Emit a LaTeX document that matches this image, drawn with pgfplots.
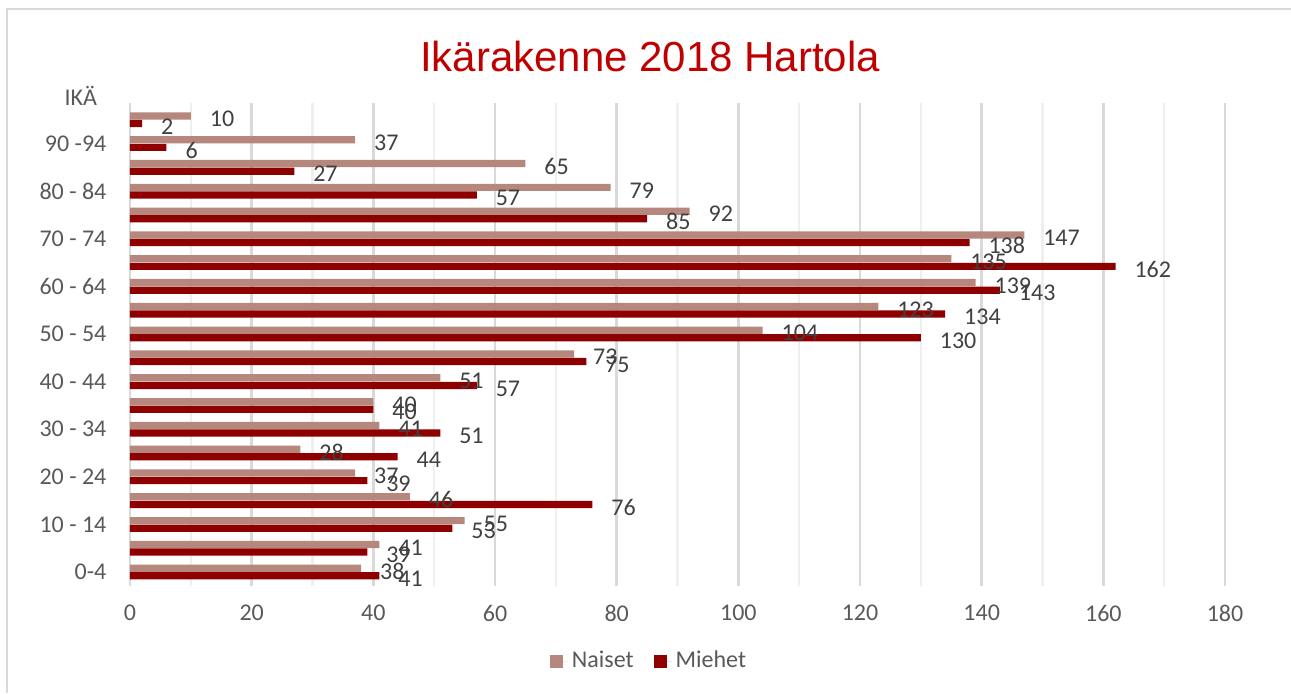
\documentclass[border=0pt]{standalone}
\usepackage{pgfplots}
\pgfplotsset{compat=1.18}
\usepackage{pgfplotstable}
\usepackage{fontspec}
\setmainfont{Carlito}
\newfontfamily\titlefont{Liberation Sans}
\definecolor{naiset}{HTML}{B5877D}
\definecolor{miehet}{HTML}{8E0000}
\definecolor{ticktext}{HTML}{595959}
\definecolor{labeltext}{HTML}{404040}
\definecolor{titlered}{HTML}{C00000}
\definecolor{majgrid}{HTML}{D9D9D9}
\definecolor{mingrid}{HTML}{EFEFEF}
\pgfplotstableread{
idx nai mie
0 38 41
1 41 39
2 55 53
3 46 76
4 37 39
5 28 44
6 41 51
7 40 40
8 51 57
9 73 75
10 104 130
11 123 134
12 139 143
13 135 162
14 147 138
15 92 85
16 79 57
17 65 27
18 37 6
19 10 2
}\data
\begin{document}
\begin{tikzpicture}
\useasboundingbox (0,0) rectangle (645.5pt,346.5pt);
\draw[majgrid, line width=0.7pt] (3.5pt,0) -- (3.5pt,342pt) -- (646pt,342pt);
\node[titlered, font=\titlefont\fontsize{21}{24}\selectfont] at (325pt,318.5pt) {Ikärakenne 2018 Hartola};
\begin{axis}[
  at={(65pt,53.35pt)}, anchor=south west,
  scale only axis, width=547.5pt, height=241.6pt,
  xbar, bar width=3.6pt,
  xmin=0, xmax=180, ymin=-0.6, ymax=19.7,
  xtick={0,20,...,180}, minor xtick={10,30,...,170},
  ytick={0,2,...,18},
  yticklabels={0-4,10 - 14,20 - 24,30 - 34,40 - 44,50 - 54,60 - 64,70 - 74,80 - 84,90 -94},
  xmajorgrids, xminorgrids,
  major grid style={majgrid, line width=1.2pt},
  minor grid style={mingrid, line width=1.2pt},
  axis line style={draw=none},
  tick style={draw=none},
  clip=false,
  /pgf/number format/assume math mode=true,
  tick label style={font=\fontsize{12}{14}\selectfont, text=ticktext},
  yticklabel style={xshift=-4pt},
  xticklabel style={yshift=-6pt},
  nodes near coords,
  point meta=x,
  nodes near coords style={font=\fontsize{12}{14}\selectfont, text=labeltext, anchor=west, xshift=6pt, yshift=-1.5pt},
  legend style={at={(0.4749,-0.1546)}, anchor=center, legend columns=2, draw=none,
    font=\fontsize{12}{14}\selectfont, text=ticktext,
    /tikz/every even column/.append style={column sep=8pt}},
  legend image code/.code={\fill[#1] (0pt,-3.25pt) rectangle (6.5pt,3.25pt); \path (0pt,0pt) -- (9pt,0pt);},
]
\addplot[fill=naiset, draw=none, bar shift=1.9pt] table[x=nai, y=idx] {\data};
\addplot[fill=miehet, draw=none, bar shift=-1.9pt] table[x=mie, y=idx] {\data};
\legend{Naiset, Miehet}
\node[anchor=east, font=\fontsize{12}{14}\selectfont, text=ticktext] at ([xshift=-13pt]axis cs:0,20) {IKÄ};
\end{axis}
\end{tikzpicture}
\end{document}
